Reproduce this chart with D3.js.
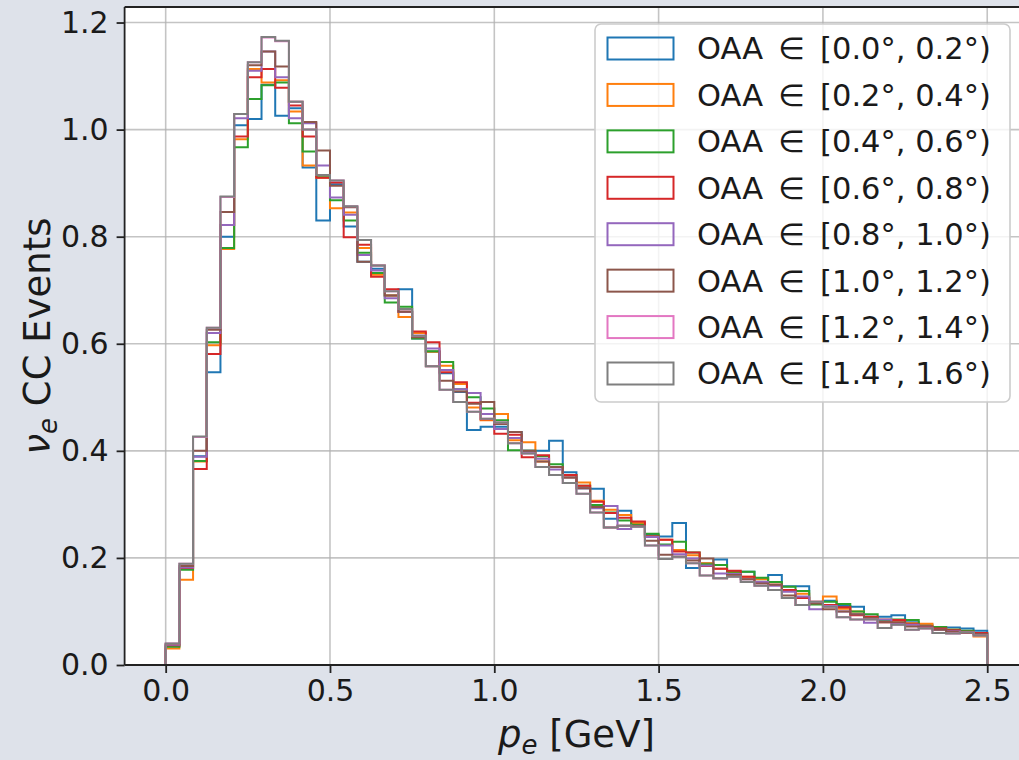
<!DOCTYPE html>
<html>
<head>
<meta charset="utf-8">
<script src="https://cdn.jsdelivr.net/npm/d3@7"></script>
<style>
  html, body { margin: 0; padding: 0; background: #dee2ea; }
  svg { display: block; font-family: "DejaVu Sans", sans-serif; }
</style>
</head>
<body>
<svg id="chart" width="1019" height="760"></svg>
<script>
// ---------------- DATA ----------------
const binRange = [0, 2.5];
const binCount = 60;

const seriesLabels = [
  "[0.0°, 0.2°)", "[0.2°, 0.4°)", "[0.4°, 0.6°)", "[0.6°, 0.8°)",
  "[0.8°, 1.0°)", "[1.0°, 1.2°)", "[1.2°, 1.4°)", "[1.4°, 1.6°)"
];
const seriesColors = ["#1f77b4", "#ff7f0e", "#2ca02c", "#d62728", "#9467bd", "#8c564b", "#e377c2", "#7f7f7f"];

const oaa00 = [0.035,0.180,0.390,0.547,0.800,1.008,1.020,1.084,1.026,1.040,0.929,0.830,0.898,0.819,0.753,0.740,0.690,0.702,0.610,0.585,0.545,0.510,0.439,0.445,0.445,0.435,0.400,0.400,0.419,0.360,0.330,0.329,0.273,0.288,0.260,0.243,0.240,0.265,0.181,0.190,0.197,0.170,0.174,0.160,0.168,0.147,0.147,0.115,0.120,0.110,0.109,0.090,0.090,0.093,0.080,0.075,0.071,0.070,0.068,0.064];
const oaa02 = [0.031,0.159,0.380,0.597,0.777,0.982,1.113,1.088,1.092,1.034,0.933,0.910,0.853,0.845,0.779,0.729,0.690,0.650,0.620,0.585,0.559,0.525,0.481,0.457,0.469,0.420,0.416,0.380,0.370,0.350,0.341,0.307,0.290,0.280,0.265,0.240,0.234,0.215,0.205,0.190,0.180,0.172,0.165,0.160,0.150,0.140,0.133,0.115,0.128,0.105,0.100,0.088,0.085,0.080,0.078,0.077,0.070,0.066,0.063,0.053];
const oaa04 = [0.034,0.178,0.381,0.603,0.779,0.967,1.057,1.083,1.088,1.012,0.959,0.914,0.868,0.830,0.770,0.732,0.677,0.669,0.610,0.586,0.566,0.515,0.500,0.479,0.457,0.401,0.400,0.390,0.375,0.355,0.335,0.299,0.285,0.270,0.262,0.245,0.225,0.230,0.210,0.188,0.187,0.174,0.174,0.163,0.155,0.146,0.138,0.113,0.118,0.114,0.100,0.095,0.083,0.085,0.084,0.072,0.071,0.066,0.064,0.060];
const oaa06 = [0.037,0.181,0.366,0.581,0.822,0.987,1.098,1.113,1.078,1.045,0.987,0.910,0.901,0.799,0.785,0.725,0.702,0.660,0.623,0.603,0.547,0.528,0.490,0.459,0.432,0.430,0.388,0.392,0.370,0.355,0.335,0.305,0.284,0.275,0.268,0.240,0.234,0.212,0.210,0.185,0.180,0.176,0.165,0.155,0.150,0.140,0.125,0.118,0.112,0.108,0.093,0.090,0.080,0.084,0.076,0.072,0.068,0.065,0.062,0.060];
const oaa08 = [0.038,0.182,0.389,0.620,0.822,1.021,1.110,1.146,1.098,1.021,1.012,0.933,0.873,0.841,0.766,0.737,0.685,0.660,0.615,0.591,0.551,0.515,0.508,0.469,0.441,0.424,0.397,0.385,0.365,0.350,0.330,0.293,0.297,0.254,0.259,0.239,0.223,0.207,0.199,0.186,0.171,0.170,0.160,0.155,0.148,0.137,0.128,0.104,0.110,0.100,0.095,0.079,0.085,0.078,0.075,0.070,0.066,0.063,0.060,0.058];
const oaa10 = [0.039,0.185,0.400,0.626,0.846,1.029,1.120,1.146,1.118,1.052,1.014,0.961,0.895,0.855,0.753,0.746,0.690,0.660,0.612,0.558,0.531,0.511,0.488,0.491,0.450,0.435,0.400,0.380,0.370,0.350,0.330,0.295,0.257,0.260,0.260,0.232,0.206,0.202,0.195,0.199,0.162,0.168,0.160,0.152,0.150,0.130,0.112,0.115,0.104,0.100,0.095,0.088,0.080,0.080,0.072,0.070,0.066,0.062,0.060,0.058];
const oaa12 = [0.040,0.189,0.426,0.630,0.874,1.029,1.126,1.172,1.165,1.052,1.000,0.915,0.905,0.857,0.794,0.746,0.698,0.665,0.615,0.558,0.514,0.491,0.473,0.460,0.453,0.414,0.395,0.370,0.355,0.340,0.320,0.285,0.257,0.260,0.258,0.223,0.198,0.202,0.190,0.167,0.162,0.165,0.155,0.148,0.140,0.125,0.112,0.118,0.109,0.089,0.085,0.085,0.069,0.075,0.066,0.068,0.060,0.059,0.061,0.055];
const oaa14 = [0.040,0.189,0.427,0.630,0.875,1.029,1.126,1.173,1.166,1.052,1.000,0.915,0.905,0.857,0.794,0.746,0.698,0.665,0.615,0.558,0.514,0.491,0.473,0.460,0.453,0.414,0.395,0.370,0.355,0.340,0.320,0.285,0.257,0.260,0.258,0.223,0.198,0.202,0.190,0.167,0.162,0.165,0.155,0.148,0.140,0.125,0.112,0.118,0.109,0.089,0.085,0.085,0.069,0.075,0.066,0.068,0.060,0.059,0.061,0.055];

const seriesValues = [oaa00, oaa02, oaa04, oaa06, oaa08, oaa10, oaa12, oaa14];

const xTicks = [0.0, 0.5, 1.0, 1.5, 2.0, 2.5];
const yTicks = [0.0, 0.2, 0.4, 0.6, 0.8, 1.0, 1.2];

// ---------------- LAYOUT ----------------
const svg = d3.select("#chart");
const W = 1019, H = 760;
svg.append("rect").attr("width", W).attr("height", H).attr("fill", "#dee2ea");

const x = d3.scaleLinear().domain([-0.125, 2.625]).range([124.6, 1028.3]);
const y = d3.scaleLinear().domain([0, 1.229]).range([665, 7]);

const plotL = x.range()[0], plotR = x.range()[1], plotT = y.range()[1], plotB = y.range()[0];

// axes background
svg.append("rect")
  .attr("x", plotL).attr("y", plotT)
  .attr("width", plotR - plotL).attr("height", plotB - plotT)
  .attr("fill", "#ffffff");

// grid
const grid = svg.append("g");
grid.selectAll("line.gx").data(xTicks).join("line")
  .attr("x1", d => x(d)).attr("x2", d => x(d))
  .attr("y1", plotT).attr("y2", plotB)
  .attr("stroke", "#b0b0b0").attr("stroke-opacity", 0.75).attr("stroke-width", 1.6);
grid.selectAll("line.gy").data(yTicks).join("line")
  .attr("x1", plotL).attr("x2", plotR)
  .attr("y1", d => y(d)).attr("y2", d => y(d))
  .attr("stroke", "#b0b0b0").attr("stroke-opacity", 0.75).attr("stroke-width", 1.6);

// histograms (step)
const binW = (binRange[1] - binRange[0]) / binCount;
const edges = d3.range(binCount + 1).map(i => binRange[0] + i * binW);
const line = d3.line().x(d => x(d[0])).y(d => y(d[1]));

seriesValues.forEach((vals, si) => {
  const pts = [[edges[0], 0]];
  vals.forEach((v, k) => { pts.push([edges[k], v]); pts.push([edges[k + 1], v]); });
  pts.push([edges[binCount], 0]);
  svg.append("path")
    .attr("d", line(pts))
    .attr("fill", "none")
    .attr("stroke", seriesColors[si])
    .attr("stroke-width", 2)
    .attr("stroke-linejoin", "miter");
});

// axes
const xAxis = svg.append("g").attr("transform", `translate(0,${plotB})`)
  .call(d3.axisBottom(x).tickValues(xTicks).tickFormat(d3.format(".1f")).tickSize(8).tickPadding(7).tickSizeOuter(0));
const yAxis = svg.append("g").attr("transform", `translate(${plotL},0)`)
  .call(d3.axisLeft(y).tickValues(yTicks).tickFormat(d3.format(".1f")).tickSize(8).tickPadding(8).tickSizeOuter(0));

[xAxis, yAxis].forEach(g => {
  g.select(".domain").remove();
  g.selectAll(".tick line").attr("stroke", "#222").attr("stroke-width", 1.8);
  g.selectAll(".tick text").attr("fill", "#1a1a1a").style("font-size", "30px").style("font-family", "DejaVu Sans");
});

// spines
svg.append("line").attr("x1", plotL).attr("x2", plotL).attr("y1", plotT).attr("y2", plotB)
  .attr("stroke", "#222").attr("stroke-width", 1.8);
svg.append("line").attr("x1", plotL).attr("x2", plotR).attr("y1", plotB).attr("y2", plotB)
  .attr("stroke", "#222").attr("stroke-width", 1.8);
svg.append("line").attr("x1", plotL).attr("x2", plotR).attr("y1", plotT).attr("y2", plotT)
  .attr("stroke", "#222").attr("stroke-width", 1.8);

// axis labels
const xl = svg.append("text")
  .attr("x", (plotL + plotR) / 2).attr("y", 747)
  .attr("text-anchor", "middle").attr("fill", "#1a1a1a")
  .style("font-size", "37px");
xl.append("tspan").attr("font-style", "italic").text("p");
xl.append("tspan").attr("font-style", "italic").attr("font-size", "26px").attr("dy", 7).text("e");
xl.append("tspan").attr("dy", -7).text(" [GeV]");

const yl = svg.append("text")
  .attr("transform", `translate(50,${(plotT + plotB) / 2}) rotate(-90)`)
  .attr("text-anchor", "middle").attr("fill", "#1a1a1a")
  .style("font-size", "37px");
yl.append("tspan").attr("font-style", "italic").text("ν");
yl.append("tspan").attr("font-style", "italic").attr("font-size", "26px").attr("dy", 7).text("e");
yl.append("tspan").attr("dy", -7).text(" CC Events");

// legend
const lg = svg.append("g");
lg.append("rect")
  .attr("x", 595).attr("y", 24).attr("width", 415).attr("height", 378)
  .attr("rx", 6).attr("ry", 6)
  .attr("fill", "#ffffff").attr("fill-opacity", 0.8)
  .attr("stroke", "#cccccc").attr("stroke-width", 1.6);

const rowY = d3.scaleLinear().domain([0, 7]).range([48.5, 373.5]);
seriesLabels.forEach((lab, i) => {
  const cy = rowY(i);
  lg.append("rect")
    .attr("x", 607.5).attr("y", cy - 11).attr("width", 66).attr("height", 22)
    .attr("fill", "none").attr("stroke", seriesColors[i]).attr("stroke-width", 2);
  lg.append("text")
    .attr("x", 697).attr("y", cy).attr("dy", "0.36em")
    .attr("fill", "#1a1a1a").style("font-size", "30.5px")
    .text("OAA\u2002\u2208\u2002" + lab);
});
</script>
</body>
</html>
